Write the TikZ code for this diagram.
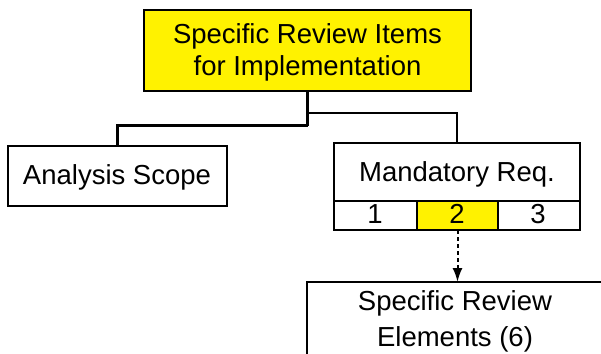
\documentclass[tikz,border=0pt]{standalone}
\usepackage{fontspec}
\setmainfont{Liberation Sans}
\usetikzlibrary{arrows.meta}
\begin{document}
\begin{tikzpicture}[x=1pt,y=-1pt,
  box/.style={draw=black, line width=2pt, inner sep=0pt, outer sep=0pt},
  txt/.style={inner sep=0pt, anchor=base, font=\fontsize{27.5}{32}\selectfont},
  link/.style={draw=black, line width=2.2pt},
  dashlink/.style={draw=black, line width=2pt, dash pattern=on 4pt off 3pt,
    -{Latex[length=14pt,width=10pt]}}]
\clip (0,0) rectangle (601,353);
\useasboundingbox (0,0) rectangle (601,353);

% boxes
\node[box, fill=yellow, minimum width=327pt, minimum height=80.5pt] (top) at (307.5,50.75) {};
\node[box, minimum width=219pt, minimum height=60pt] (scope) at (117.5,176) {};
\node[box, minimum width=246pt, minimum height=58pt] (req) at (457,172) {};
\node[box, minimum width=83pt, minimum height=29pt] (c1) at (375.5,215.5) {};
\node[box, fill=yellow, minimum width=81pt, minimum height=29pt] (c2) at (457.5,215.5) {};
\node[box, minimum width=82pt, minimum height=29pt] (c3) at (539,215.5) {};
\node[box, minimum width=298pt, minimum height=98pt] (elems) at (456,331) {};

% texts
\node[txt] (t1) at (307.5,43.5) {Specific Review Items};
\node[txt] (t2) at (307.5,75.5) {for Implementation};
\node[txt] (tscope) at (117,184) {Analysis Scope};
\node[txt] (treq) at (457,181.7) {Mandatory Req.};
\node[txt] (n1) at (375,223.3) {1};
\node[txt] (n2) at (457,223.3) {2};
\node[txt] (n3) at (538,223.3) {3};
\node[txt] (e1) at (455,310) {Specific Review};
\node[txt] (e2) at (455,346) {Elements (6)};

% connectors
\coordinate (j1) at (307.5,125.5);
\coordinate (j2) at (307.5,113);
\draw[link] (j1) -| (scope.north);
\draw[link] (j2) -| (req.north);
\draw[link, line width=3pt] (top.south) -- (j1);
\draw[dashlink] (c2.south) -- (c2.south |- elems.north);
\end{tikzpicture}
\end{document}
